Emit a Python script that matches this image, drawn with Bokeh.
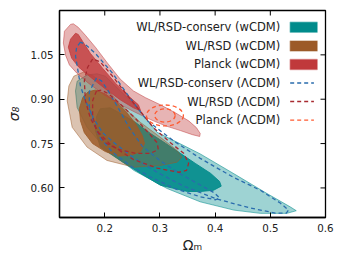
from bokeh.plotting import figure
from bokeh.models import FixedTicker, NumeralTickFormatter, Range1d
from bokeh.core.properties import value
from bokeh.embed import file_html
from bokeh.resources import INLINE

# ---------------- data ----------------
x_ticks = [0.2, 0.3, 0.4, 0.5, 0.6]
y_ticks = [0.60, 0.75, 0.90, 1.05]

# WL/RSD-conserv (wCDM) filled contours
teal2_x = [0.147, 0.150, 0.168, 0.186, 0.201, 0.219, 0.247, 0.274, 0.295, 0.337, 0.373, 0.434,
           0.494, 0.536, 0.547, 0.530, 0.482, 0.434, 0.373, 0.313, 0.253, 0.204, 0.168, 0.150]
teal2_y = [0.928, 0.961, 0.982, 0.986, 0.978, 0.945, 0.894, 0.837, 0.788, 0.749, 0.715, 0.648,
           0.581, 0.536, 0.523, 0.514, 0.514, 0.525, 0.553, 0.598, 0.659, 0.727, 0.805, 0.872]
teal1_x = [0.192, 0.210, 0.232, 0.256, 0.283, 0.310, 0.337, 0.364, 0.392, 0.408, 0.411, 0.397,
           0.373, 0.350, 0.301, 0.265, 0.228, 0.192, 0.183, 0.185]
teal1_y = [0.868, 0.871, 0.848, 0.821, 0.784, 0.751, 0.717, 0.683, 0.649, 0.622, 0.606, 0.592,
           0.588, 0.588, 0.609, 0.649, 0.693, 0.738, 0.794, 0.841]

# WL/RSD (wCDM) filled contours
brown2_x = [0.162, 0.144, 0.135, 0.132, 0.141, 0.168, 0.204, 0.253, 0.301, 0.331, 0.340, 0.331,
            0.301, 0.265, 0.228, 0.198, 0.180]
brown2_y = [0.992, 0.978, 0.945, 0.894, 0.805, 0.738, 0.693, 0.670, 0.676, 0.687, 0.704, 0.727,
            0.771, 0.821, 0.883, 0.945, 0.978]
brown1_x = [0.183, 0.201, 0.219, 0.237, 0.256, 0.268, 0.272, 0.265, 0.247, 0.225, 0.201, 0.178,
            0.163, 0.156, 0.154, 0.160, 0.170]
brown1_y = [0.931, 0.918, 0.894, 0.861, 0.817, 0.777, 0.750, 0.723, 0.710, 0.708, 0.723, 0.750,
            0.787, 0.827, 0.868, 0.905, 0.925]

# Planck (wCDM) filled contours
red2_x = [0.138, 0.127, 0.125, 0.129, 0.136, 0.149, 0.170, 0.199, 0.228, 0.256, 0.283, 0.310,
          0.337, 0.359, 0.372, 0.373, 0.366, 0.352, 0.328, 0.301, 0.274, 0.252, 0.228, 0.205,
          0.183, 0.165, 0.152, 0.143]
red2_y = [1.153, 1.130, 1.090, 1.049, 1.016, 0.989, 0.955, 0.915, 0.882, 0.855, 0.831, 0.810,
          0.794, 0.780, 0.774, 0.784, 0.804, 0.827, 0.854, 0.881, 0.905, 0.928, 0.968, 1.022,
          1.076, 1.116, 1.143, 1.155]
red1_x = [0.147, 0.138, 0.134, 0.140, 0.153, 0.174, 0.201, 0.228, 0.252, 0.265, 0.261, 0.243,
          0.219, 0.196, 0.174, 0.160, 0.152]
red1_y = [1.123, 1.103, 1.076, 1.039, 1.008, 0.975, 0.935, 0.898, 0.871, 0.861, 0.881, 0.911,
          0.955, 1.005, 1.055, 1.095, 1.119]

# WL/RSD-conserv (LCDM) dashed contours
blue2_x = [0.156, 0.149, 0.147, 0.151, 0.156, 0.165, 0.180, 0.196, 0.216, 0.252, 0.295, 0.343,
           0.404, 0.464, 0.509, 0.529, 0.533, 0.518, 0.482, 0.433, 0.373, 0.324, 0.277, 0.243,
           0.214, 0.183, 0.165]
blue2_y = [1.093, 1.076, 1.046, 1.002, 0.945, 0.895, 0.834, 0.787, 0.754, 0.703, 0.653, 0.606,
           0.562, 0.532, 0.515, 0.515, 0.525, 0.549, 0.592, 0.636, 0.700, 0.760, 0.827, 0.911,
           0.988, 1.055, 1.085]
blue1_x = [0.185, 0.172, 0.172, 0.180, 0.192, 0.214, 0.247, 0.283, 0.328, 0.373, 0.401, 0.408,
           0.399, 0.373, 0.337, 0.301, 0.268, 0.243, 0.223, 0.205, 0.194]
blue1_y = [0.972, 0.925, 0.875, 0.818, 0.768, 0.721, 0.674, 0.637, 0.597, 0.570, 0.560, 0.566,
           0.583, 0.610, 0.647, 0.691, 0.741, 0.808, 0.875, 0.932, 0.962]

# WL/RSD (LCDM) dashed contours
dred2_x = [0.178, 0.169, 0.163, 0.165, 0.174, 0.189, 0.210, 0.252, 0.295, 0.334, 0.348, 0.352,
           0.343, 0.319, 0.288, 0.265, 0.243, 0.214, 0.192]
dred2_y = [1.036, 1.008, 0.962, 0.895, 0.835, 0.787, 0.747, 0.696, 0.667, 0.653, 0.659, 0.683,
           0.717, 0.753, 0.804, 0.858, 0.908, 0.978, 1.026]
dred1_x = [0.185, 0.178, 0.178, 0.185, 0.201, 0.225, 0.256, 0.283, 0.297, 0.295, 0.279, 0.256,
           0.228, 0.207, 0.194]
dred1_y = [0.928, 0.895, 0.844, 0.794, 0.753, 0.730, 0.717, 0.717, 0.730, 0.753, 0.787, 0.834,
           0.884, 0.918, 0.931]

# Planck (LCDM) dashed contours (ellipses)
planck_cx = [0.309, 0.309]
planck_cy = [0.845, 0.845]
planck_w = [0.067, 0.037]
planck_h = [0.071, 0.045]

legend_labels = ["WL/RSD-conserv (wCDM)", "WL/RSD (wCDM)", "Planck (wCDM)",
                 "WL/RSD-conserv (\u039bCDM)", "WL/RSD (\u039bCDM)", "Planck (\u039bCDM)"]

# ---------------- styles ----------------
TEAL = "#008b8b"
BROWN = "#9c5a28"
RED = "#c0393b"
BLUE = "#2a6cad"
DRED = "#a82a30"
ORANGE = "#ff5a30"
FONT = "DejaVu Sans"
X0, X1, Y0, Y1 = 0.118, 0.6, 0.5, 1.2
FRAME_W, FRAME_H = 266, 207
TICK = 5  # px

p = figure(frame_width=FRAME_W, frame_height=FRAME_H, title=None,
           x_range=Range1d(X0, X1), y_range=Range1d(Y0, Y1),
           output_backend="svg", toolbar_location=None,
           min_border_left=59, min_border_right=21, min_border_top=10, min_border_bottom=47)
p.xgrid.visible = False
p.ygrid.visible = False
p.outline_line_color = "black"
p.outline_line_width = 1.3
p.background_fill_color = "white"
p.border_fill_color = "white"

def filled(xs, ys, color, alpha, lalpha):
    p.patch(xs, ys, fill_color=color, fill_alpha=alpha, line_color=color,
            line_alpha=lalpha, line_width=1)

filled(teal2_x, teal2_y, TEAL, 0.38, 0.55)
filled(teal1_x, teal1_y, TEAL, 0.9, 0.9)
filled(brown2_x, brown2_y, BROWN, 0.36, 0.5)
filled(brown1_x, brown1_y, BROWN, 0.85, 0.85)
filled(red2_x, red2_y, RED, 0.38, 0.5)
filled(red1_x, red1_y, RED, 0.8, 0.8)

def dashed(xs, ys, color):
    p.line(xs + xs[:1], ys + ys[:1], line_color=color, line_width=1.3, line_dash="4 3")

dashed(blue2_x, blue2_y, BLUE)
dashed(blue1_x, blue1_y, BLUE)
dashed(dred2_x, dred2_y, DRED)
dashed(dred1_x, dred1_y, DRED)
p.ellipse(x=planck_cx, y=planck_cy, width=planck_w, height=planck_h, fill_color=None,
          line_color=ORANGE, line_width=1.3, line_dash="4 3")

# mirrored inward ticks on top and right edges
dx_tick = TICK * (X1 - X0) / FRAME_W
dy_tick = TICK * (Y1 - Y0) / FRAME_H
p.segment(x0=x_ticks, y0=[Y1] * len(x_ticks), x1=x_ticks, y1=[Y1 - dy_tick] * len(x_ticks),
          line_color="black", line_width=1)
p.segment(x0=[X1] * len(y_ticks), y0=y_ticks, x1=[X1 - dx_tick] * len(y_ticks), y1=y_ticks,
          line_color="black", line_width=1)

# ---------------- legend (drawn manually: text left, key right) ----------------
leg_top = 1.143
leg_step = 0.0627
leg_y = [leg_top - i * leg_step for i in range(len(legend_labels))]
p.text(x=[0.518] * len(legend_labels), y=leg_y, text=legend_labels, text_align="right",
       text_baseline="middle", text_font=value(FONT), text_font_size="11.5px", text_color="#222222")
p.rect(x=[0.5605] * 3, y=leg_y[:3], width=27, height=10, width_units="screen", height_units="screen",
       fill_color=[TEAL, BROWN, RED], line_color=[TEAL, BROWN, RED], line_alpha=0.4, line_width=1.5)
p.segment(x0=[0.536] * 3, y0=leg_y[3:], x1=[0.579] * 3, y1=leg_y[3:],
          line_color=[BLUE, DRED, ORANGE], line_width=1.3, line_dash="4 3")

# ---------------- axes ----------------
for ax, ticks, fmt in ((p.xaxis[0], x_ticks, "0.0"), (p.yaxis[0], y_ticks, "0.00")):
    ax.ticker = FixedTicker(ticks=ticks)
    ax.formatter = NumeralTickFormatter(format=fmt)
    ax.major_tick_in = TICK
    ax.major_tick_out = 0
    ax.minor_tick_in = 0
    ax.minor_tick_out = 0
    ax.major_tick_line_color = "black"
    ax.axis_line_color = "black"
    ax.axis_line_width = 1.3
    ax.major_label_text_font = FONT
    ax.major_label_text_font_size = "10.3px"
    ax.major_label_text_color = "#222222"
    ax.major_label_standoff = 6
    ax.axis_label_text_font = FONT
    ax.axis_label_text_font_size = "14px"
    ax.axis_label_text_color = "#222222"

p.xaxis.axis_label = "\u03a9\u2098"
p.yaxis.axis_label = "\u03c3\u2088"
p.xaxis.axis_label_text_font_style = "normal"
p.yaxis.axis_label_text_font_style = "italic"
p.xaxis.axis_label_standoff = 2
p.yaxis.axis_label_standoff = 6

open("out.html", "w").write(file_html(p, INLINE))
